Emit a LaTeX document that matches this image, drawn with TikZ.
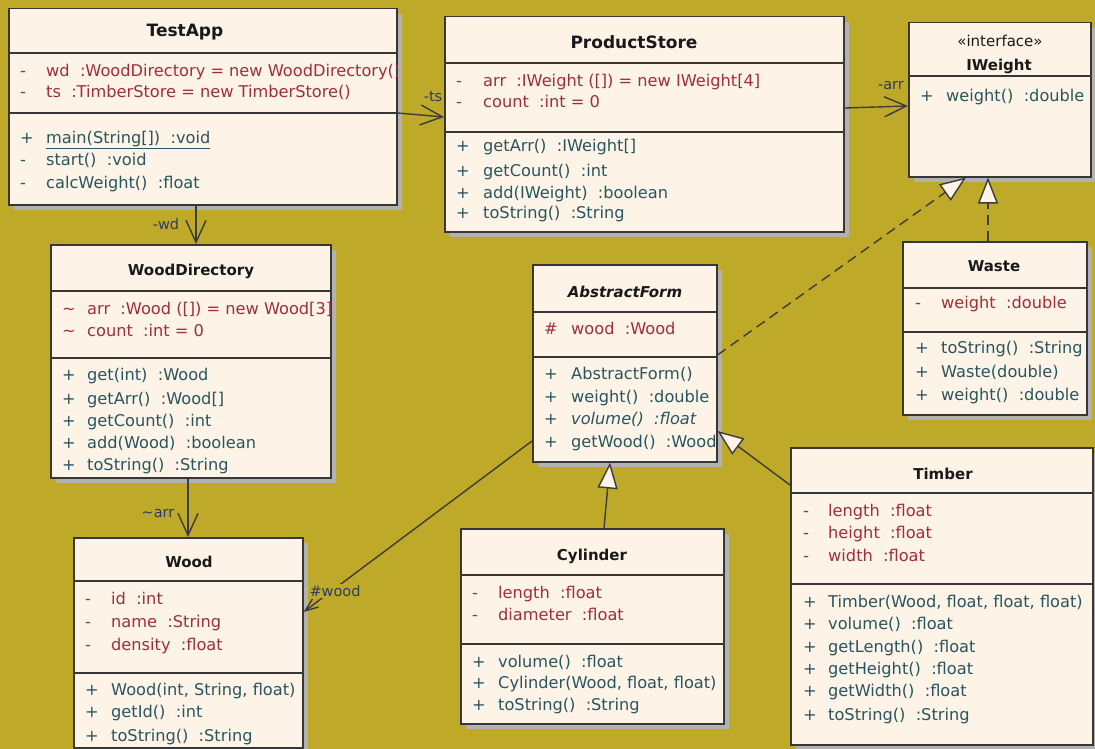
\documentclass[tikz,border=0pt]{standalone}
\usepackage{fontspec}
\setmainfont{DejaVu Sans}
\usetikzlibrary{arrows.meta,shadows}

\definecolor{bgolive}{RGB}{190,169,40}
\definecolor{boxfill}{RGB}{253,244,231}
\definecolor{boxline}{RGB}{55,55,55}
\definecolor{shadowgray}{RGB}{178,178,178}
\definecolor{attrred}{RGB}{160,45,60}
\definecolor{methteal}{RGB}{40,85,95}
\definecolor{titleblack}{RGB}{25,25,25}
\definecolor{lblblue}{RGB}{45,60,100}
\definecolor{linegray}{RGB}{60,60,60}

\tikzset{
  classbox/.style={draw=boxline, fill=boxfill, line width=1.5pt, anchor=north west, inner sep=0pt,
    drop shadow={shadow xshift=5pt, shadow yshift=-5pt, fill=shadowgray, opacity=1}},
  divider/.style={draw=boxline, line width=1.3pt},
  bigtitle/.style={font=\fontsize{17}{20}\selectfont\bfseries, text=titleblack, anchor=base, inner sep=0pt},
  classtitle/.style={font=\fontsize{15}{18}\selectfont\bfseries, text=titleblack, anchor=base, inner sep=0pt},
  stereo/.style={font=\fontsize{15}{17}\selectfont, text=titleblack, anchor=base, inner sep=0pt},
  attr/.style={font=\fontsize{16.2}{19}\selectfont, text=attrred, anchor=base west, inner sep=0pt},
  meth/.style={attr, text=methteal},
  lbl/.style={font=\fontsize{14.5}{17}\selectfont, text=lblblue, inner sep=1pt},
  assoc/.style={draw=linegray, line width=1.4pt, -{Straight Barb[length=22pt,width=20pt]}},
  assocsmall/.style={draw=linegray, line width=1.4pt, -{Straight Barb[length=13pt,width=10pt]}},
  generalize/.style={draw=linegray, line width=1.4pt, -{Triangle[length=26pt,width=20pt,fill=boxfill]}},
  realize/.style={generalize, dash pattern=on 10pt off 6pt}
}

\begin{document}
\begin{tikzpicture}[x=1pt,y=-1pt]
\fill[bgolive] (0,0) rectangle (1095,749);
\useasboundingbox (0,0) rectangle (1095,749);

% TestApp
\node[classbox, minimum width=388pt, minimum height=196pt] (testapp) at (8,8) {};
\draw[divider] (testapp.west |- 0,53) -- (testapp.east |- 0,53);
\draw[divider] (testapp.west |- 0,113) -- (testapp.east |- 0,113);
\node[bigtitle] (testapp-name) at (185,37) {TestApp};
\begin{scope}
  \clip (testapp.north west) rectangle (testapp.south east);
  \foreach \yy/\txt [count=\i] in {77/{wd\ \ :WoodDirectory = new WoodDirectory()}, 98/{ts\ \ :TimberStore = new TimberStore()}}
  {
    \node[attr] (testapp-av\i) at (20,\yy) {-};
    \node[attr] (testapp-a\i) at (46,\yy) {\txt};
  }
  \node[meth] (testapp-mv1) at (20,143) {+};
  \node[meth] (testapp-m1) at (46,143) {\underline{main(String[])\ \ :void}};
  \foreach \yy/\txt [count=\i from 2] in {165/{start()\ \ :void}, 189/{calcWeight()\ \ :float}}
  {
    \node[meth] (testapp-mv\i) at (20,\yy) {-};
    \node[meth] (testapp-m\i) at (46,\yy) {\txt};
  }
\end{scope}

% ProductStore
\node[classbox, minimum width=399pt, minimum height=215pt] (prodstore) at (444,16) {};
\draw[divider] (prodstore.west |- 0,63) -- (prodstore.east |- 0,63);
\draw[divider] (prodstore.west |- 0,132) -- (prodstore.east |- 0,132);
\node[bigtitle] (prodstore-name) at (634,49) {ProductStore};
\begin{scope}
  \clip (prodstore.north west) rectangle (prodstore.south east);
  \foreach \yy/\txt [count=\i] in {87/{arr\ \ :IWeight ([]) = new IWeight[4]}, 108/{count\ \ :int = 0}}
  {
    \node[attr] (prodstore-av\i) at (456,\yy) {-};
    \node[attr] (prodstore-a\i) at (483,\yy) {\txt};
  }
  \foreach \yy/\txt [count=\i] in {152/{getArr()\ \ :IWeight[]}, 176/{getCount()\ \ :int}, 198/{add(IWeight)\ \ :boolean}, 218/{toString()\ \ :String}}
  {
    \node[meth] (prodstore-mv\i) at (456,\yy) {+};
    \node[meth] (prodstore-m\i) at (483,\yy) {\txt};
  }
\end{scope}

% IWeight
\node[classbox, minimum width=182pt, minimum height=154pt] (iweight) at (908,22) {};
\draw[divider] (iweight.west |- 0,76) -- (iweight.east |- 0,76);
\node[stereo] (iweight-stereo) at (1000,47) {«interface»};
\node[classtitle] (iweight-name) at (999,71) {IWeight};
\begin{scope}
  \clip (iweight.north west) rectangle (iweight.south east);
  \node[meth] (iweight-mv1) at (920,102) {+};
  \node[meth] (iweight-m1) at (946,102) {weight()\ \ :double};
\end{scope}

% WoodDirectory
\node[classbox, minimum width=280pt, minimum height=233pt] (wooddir) at (50,244) {};
\draw[divider] (wooddir.west |- 0,291) -- (wooddir.east |- 0,291);
\draw[divider] (wooddir.west |- 0,358) -- (wooddir.east |- 0,358);
\node[classtitle] (wooddir-name) at (191,275) {WoodDirectory};
\begin{scope}
  \clip (wooddir.north west) rectangle (wooddir.south east);
  \foreach \yy/\txt [count=\i] in {314/{arr\ \ :Wood ([]) = new Wood[3]}, 336/{count\ \ :int = 0}}
  {
    \node[attr] (wooddir-av\i) at (62,\yy) {\textasciitilde};
    \node[attr] (wooddir-a\i) at (87,\yy) {\txt};
  }
  \foreach \yy/\txt [count=\i] in {380/{get(int)\ \ :Wood}, 404/{getArr()\ \ :Wood[]}, 426/{getCount()\ \ :int}, 448/{add(Wood)\ \ :boolean}, 470/{toString()\ \ :String}}
  {
    \node[meth] (wooddir-mv\i) at (62,\yy) {+};
    \node[meth] (wooddir-m\i) at (87,\yy) {\txt};
  }
\end{scope}

% Wood
\node[classbox, minimum width=229pt, minimum height=210pt] (wood) at (73,537) {};
\draw[divider] (wood.west |- 0,581) -- (wood.east |- 0,581);
\draw[divider] (wood.west |- 0,673) -- (wood.east |- 0,673);
\node[classtitle] (wood-name) at (189,567) {Wood};
\begin{scope}
  \clip (wood.north west) rectangle (wood.south east);
  \foreach \yy/\txt [count=\i] in {604/{id\ \ :int}, 627/{name\ \ :String}, 650/{density\ \ :float}}
  {
    \node[attr] (wood-av\i) at (85,\yy) {-};
    \node[attr] (wood-a\i) at (111,\yy) {\txt};
  }
  \foreach \yy/\txt [count=\i] in {695/{Wood(int, String, float)}, 717/{getId()\ \ :int}, 741/{toString()\ \ :String}}
  {
    \node[meth] (wood-mv\i) at (85,\yy) {+};
    \node[meth] (wood-m\i) at (111,\yy) {\txt};
  }
\end{scope}

% AbstractForm
\node[classbox, minimum width=184pt, minimum height=197pt] (absform) at (532,264) {};
\draw[divider] (absform.west |- 0,312) -- (absform.east |- 0,312);
\draw[divider] (absform.west |- 0,357) -- (absform.east |- 0,357);
\node[classtitle, font=\fontsize{15}{18}\selectfont\bfseries\itshape] (absform-name) at (625,297) {AbstractForm};
\begin{scope}
  \clip (absform.north west) rectangle (absform.south east);
  \node[attr] (absform-av1) at (544,334) {\#};
  \node[attr] (absform-a1) at (571,334) {wood\ \ :Wood};
  \foreach \yy/\txt [count=\i] in {379/{AbstractForm()}, 402/{weight()\ \ :double}, 424/{\textit{volume()\ \ :float}}, 447/{getWood()\ \ :Wood}}
  {
    \node[meth] (absform-mv\i) at (544,\yy) {+};
    \node[meth] (absform-m\i) at (571,\yy) {\txt};
  }
\end{scope}

% Waste
\node[classbox, minimum width=184pt, minimum height=173pt] (waste) at (902,241) {};
\draw[divider] (waste.west |- 0,288) -- (waste.east |- 0,288);
\draw[divider] (waste.west |- 0,332) -- (waste.east |- 0,332);
\node[classtitle] (waste-name) at (994,271) {Waste};
\begin{scope}
  \clip (waste.north west) rectangle (waste.south east);
  \node[attr] (waste-av1) at (915,308) {-};
  \node[attr] (waste-a1) at (941,308) {weight\ \ :double};
  \foreach \yy/\txt [count=\i] in {353/{toString()\ \ :String}, 377/{Waste(double)}, 400/{weight()\ \ :double}}
  {
    \node[meth] (waste-mv\i) at (915,\yy) {+};
    \node[meth] (waste-m\i) at (941,\yy) {\txt};
  }
\end{scope}

% Cylinder
\node[classbox, minimum width=263pt, minimum height=195pt] (cylinder) at (460,528) {};
\draw[divider] (cylinder.west |- 0,575) -- (cylinder.east |- 0,575);
\draw[divider] (cylinder.west |- 0,644) -- (cylinder.east |- 0,644);
\node[classtitle] (cylinder-name) at (592,560) {Cylinder};
\begin{scope}
  \clip (cylinder.north west) rectangle (cylinder.south east);
  \foreach \yy/\txt [count=\i] in {598/{length\ \ :float}, 620/{diameter\ \ :float}}
  {
    \node[attr] (cylinder-av\i) at (472,\yy) {-};
    \node[attr] (cylinder-a\i) at (498,\yy) {\txt};
  }
  \foreach \yy/\txt [count=\i] in {667/{volume()\ \ :float}, 688/{Cylinder(Wood, float, float)}, 710/{toString()\ \ :String}}
  {
    \node[meth] (cylinder-mv\i) at (472,\yy) {+};
    \node[meth] (cylinder-m\i) at (498,\yy) {\txt};
  }
\end{scope}

% Timber
\node[classbox, minimum width=302pt, minimum height=297pt] (timber) at (790,447) {};
\draw[divider] (timber.west |- 0,493) -- (timber.east |- 0,493);
\draw[divider] (timber.west |- 0,584) -- (timber.east |- 0,584);
\node[classtitle] (timber-name) at (943,479) {Timber};
\begin{scope}
  \clip (timber.north west) rectangle (timber.south east);
  \foreach \yy/\txt [count=\i] in {516/{length\ \ :float}, 538/{height\ \ :float}, 561/{width\ \ :float}}
  {
    \node[attr] (timber-av\i) at (803,\yy) {-};
    \node[attr] (timber-a\i) at (828,\yy) {\txt};
  }
  \foreach \yy/\txt [count=\i] in {607/{Timber(Wood, float, float, float)}, 629/{volume()\ \ :float}, 652/{getLength()\ \ :float}, 674/{getHeight()\ \ :float}, 696/{getWidth()\ \ :float}, 720/{toString()\ \ :String}}
  {
    \node[meth] (timber-mv\i) at (803,\yy) {+};
    \node[meth] (timber-m\i) at (828,\yy) {\txt};
  }
\end{scope}

% associations
\draw[assoc] (testapp.east |- 0,113) -- (prodstore.west |- 0,117);
\node[lbl] (lbl-ts) at (433,97) {-ts};
\draw[assoc] (prodstore.east |- 0,108) -- (iweight.west |- 0,106);
\node[lbl] (lbl-arr) at (891,86) {-arr};
\draw[assoc] (testapp.south -| 196,0) -- (wooddir.north -| 196,0);
\node[lbl] (lbl-wd) at (166,224) {-wd};
\draw[assoc] (wooddir.south -| 188,0) -- (wood.north -| 188,0);
\node[lbl] (lbl-warr) at (158,514) {\textasciitilde arr};
\draw[assocsmall] (absform.west |- 0,441) -- (wood.east |- 0,612);
\node[lbl, fill=bgolive] (lbl-wood) at (335,591) {\#wood};

% realizations and generalizations
\draw[realize] (waste.north -| 988,0) -- (iweight.south -| 988,0);
\draw[realize] (absform.east |- 0,355) -- (iweight.south -| 966,0);
\draw[generalize] (cylinder.north -| 604,0) -- (absform.south -| 610,0);
\draw[generalize] (timber.west |- 0,485) -- (absform.east |- 0,431);
\end{tikzpicture}
\end{document}
